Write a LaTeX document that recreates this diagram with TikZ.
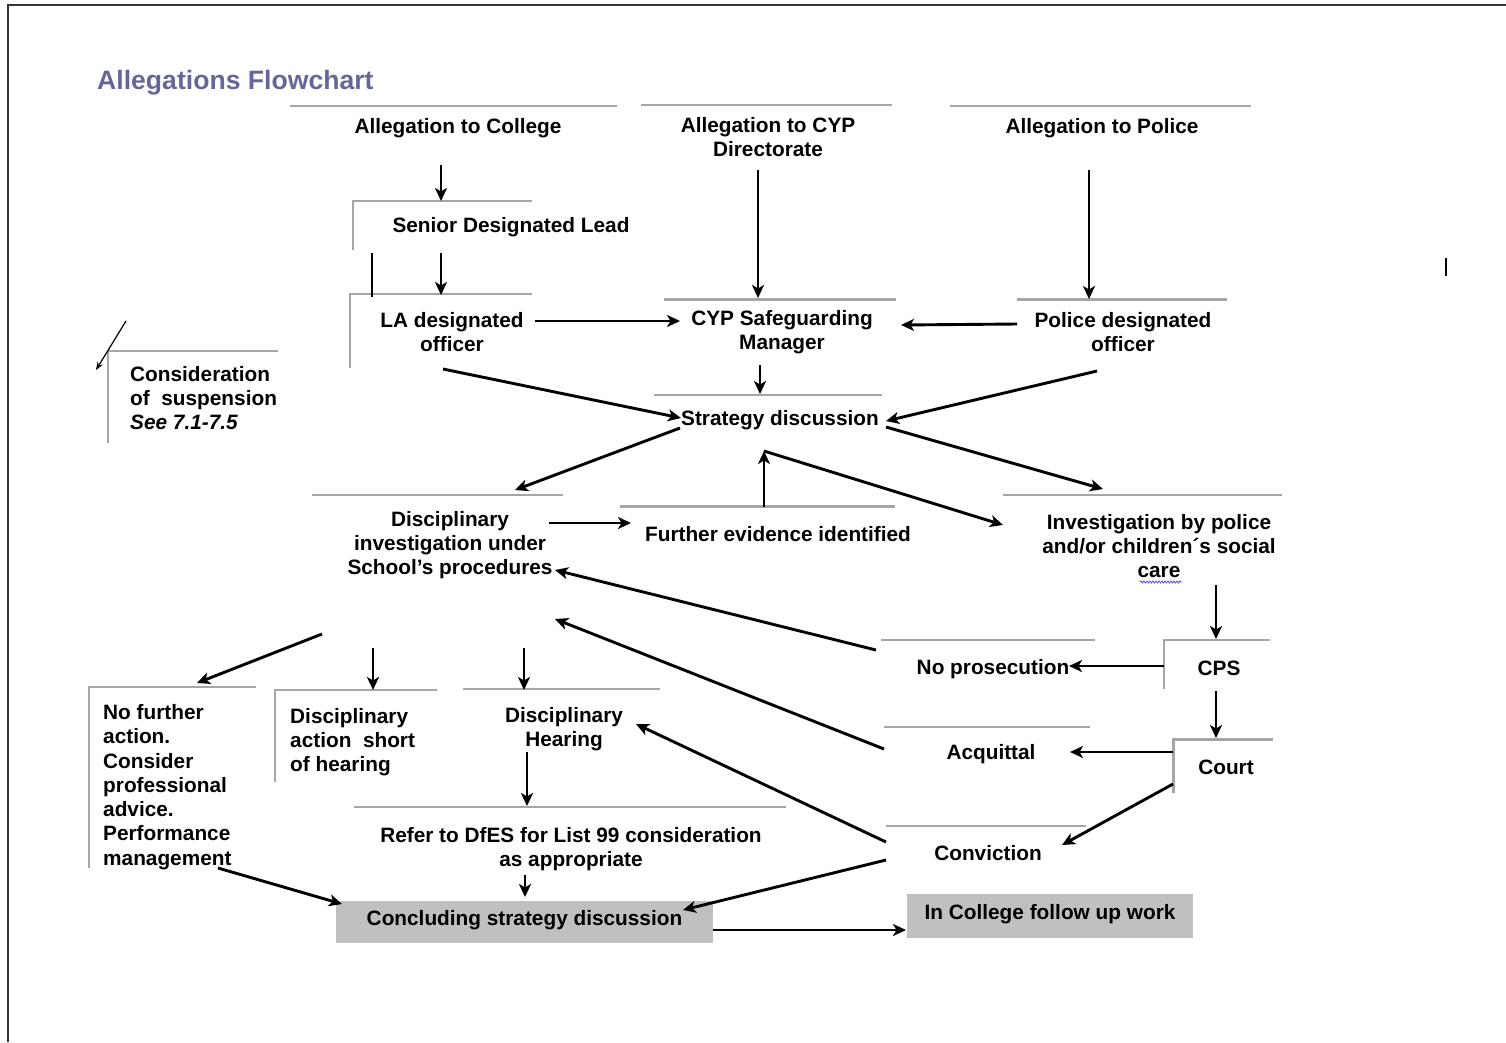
\documentclass[tikz,border=0pt]{standalone}
\usepackage{fontspec}
\setmainfont{Liberation Sans}
\usetikzlibrary{arrows.meta,decorations.pathmorphing}
\definecolor{framec}{RGB}{166,166,166}
\definecolor{titlec}{RGB}{102,102,153}
\definecolor{fillg}{RGB}{192,192,192}
\begin{document}
\begin{tikzpicture}[x=1pt,y=-1pt,
  txt/.style={font=\bfseries\fontsize{20.8}{24.3}\selectfont, align=center, inner sep=0pt},
  ltxt/.style={txt, align=left, anchor=west},
  gl/.style={draw=framec, line width=2pt},
  glt/.style={draw=framec, line width=3pt},
  arr/.style={line width=2.9pt, -{Stealth[length=13pt,width=12pt,inset=3.5pt]}},
  plain/.style={line width=2.9pt},
  greybox/.style={txt, fill=fillg}]
\useasboundingbox (0,0) rectangle (1506,1042);
% page border
\draw[line width=1.5pt, black!80] (8,1042) -- (8,5) -- (1506,5);
\coordinate (cur1) at (1446,258); \coordinate (cur2) at (1446,276);
\draw[line width=1.2pt] (cur1) -- (cur2);

% title
\node[font=\bfseries\fontsize{26.6}{30}\selectfont, text=titlec, anchor=west, inner sep=0pt] (title) at (97,83) {Allegations Flowchart};

% frames
\draw[gl] (290,106) -- (617,106);
\draw[gl] (641,105) -- (892,105);
\draw[gl] (950,106) -- (1251,106);
\draw[gl] (353,250) -- (353,201) -- (532,201);
\draw[gl] (350,368) -- (350,294) -- (532,294);
\draw[glt] (664,299) -- (896,299);
\draw[glt] (1017,299) -- (1227,299);
\draw[gl] (654,395) -- (882,395);
\draw[gl] (108,443) -- (108,351) -- (278,351);
\draw[gl] (312,495) -- (563,495);
\draw[glt] (620,506) -- (895,506);
\draw[gl] (1003,495) -- (1282,495);
\draw[gl] (1164,689) -- (1164,640) -- (1270,640);
\draw[gl] (881,640) -- (1095,640);
\draw[glt] (1173,793) -- (1173,739) -- (1273,739);
\draw[gl] (884,727) -- (1090,727);
\draw[gl] (886,826) -- (1086,826);
\draw[gl] (89,868) -- (89,687) -- (256,687);
\draw[gl] (275,782) -- (275,690) -- (437,690);
\draw[gl] (463,689) -- (660,689);
\draw[gl] (354,807) -- (786,807);

% text nodes
\node[txt] (ac) at (458,128) {Allegation to College};
\node[txt] (acyp) at (768,137) {Allegation to CYP\\Directorate};
\node[txt] (ap) at (1102,128) {Allegation to Police};
\node[txt] (sdl) at (511,227) {Senior Designated Lead};
\node[txt] (la) at (452,332) {LA designated\\officer};
\node[txt] (cyp) at (782,332) {CYP Safeguarding\\Manager};
\node[txt] (pdo) at (1123,332) {Police designated\\officer};
\node[txt] (sd) at (780,420) {Strategy discussion};
\node[ltxt] (cos) at (130,398) {Consideration\\of~~suspension\\\textit{See 7.1-7.5}};
\node[txt] (di) at (450,545) {Disciplinary\\investigation under\\School’s procedures};
\node[txt] (fe) at (778,534) {Further evidence identified};
\node[txt] (inv) at (1159,546) {Investigation by police\\and/or children´s social\\care};
\draw[blue!70, line width=0.8pt, decorate, decoration={snake, amplitude=1pt, segment length=3pt}] (1140,582) -- (1182,582);
\node[txt] (cps) at (1219,668) {CPS};
\node[txt] (np) at (993,669) {No prosecution};
\node[txt] (court) at (1226,767) {Court};
\node[txt] (acq) at (991,754) {Acquittal};
\node[txt] (conv) at (988,853) {Conviction};
\node[ltxt] (nfa) at (103,787) {No further\\action.\\Consider\\professional\\advice.\\Performance\\management};
\node[ltxt] (dash) at (290,742) {Disciplinary\\action~~short\\of hearing};
\node[txt] (dh) at (564,729) {Disciplinary\\Hearing};
\node[txt] (ref) at (571,849) {Refer to DfES for List 99 consideration\\as appropriate};
\node[greybox, minimum width=377pt, minimum height=42pt] (csd) at (524.5,922) {\raisebox{8pt}{Concluding strategy discussion}};
\node[greybox, minimum width=286pt, minimum height=44pt] (icf) at (1050,916) {\raisebox{8pt}{In College follow up work}};

% connector end points
\coordinate (ac-o) at (441,165);   \coordinate (sdl-i) at (441,201);
\coordinate (acyp-o) at (758,170); \coordinate (cyp-i) at (758,298);
\coordinate (ap-o) at (1089,170);  \coordinate (pdo-i) at (1089,299);
\coordinate (sdl-o1) at (372,253); \coordinate (la-i1) at (372,297);
\coordinate (sdl-o) at (441,253);  \coordinate (la-i) at (441,295);
\coordinate (la-e) at (535,321);   \coordinate (cyp-w) at (680,321);
\coordinate (pdo-w) at (1017,324); \coordinate (cyp-e) at (901,325);
\coordinate (cyp-s) at (760,365);  \coordinate (sd-n) at (760,394);
\coordinate (la-s) at (443,369);   \coordinate (sd-w) at (681,418);
\coordinate (pdo-s) at (1097,371); \coordinate (sd-e) at (886,421);
\coordinate (sd-sw) at (680,428);  \coordinate (di-n) at (515,490);
\coordinate (sd-se) at (886,427);  \coordinate (inv-n) at (1103,489);
\coordinate (fe-n) at (764,507);   \coordinate (sd-s) at (764,451);
\coordinate (inv-w) at (1003,525);
\coordinate (di-e) at (549,523);   \coordinate (fe-w) at (631,523);
\coordinate (inv-s) at (1216,585); \coordinate (cps-n) at (1216,639);
\coordinate (cps-w) at (1164,666); \coordinate (np-e) at (1069,666);
\coordinate (np-w) at (876,650);   \coordinate (di-se) at (555,570);
\coordinate (cps-s) at (1216,691); \coordinate (court-n) at (1216,738);
\coordinate (court-w) at (1173,752); \coordinate (acq-e) at (1070,752);
\coordinate (acq-w) at (884,749);  \coordinate (di-s) at (555,619);
\coordinate (court-sw) at (1173,784); \coordinate (conv-e) at (1062,845);
\coordinate (conv-w1) at (886,842); \coordinate (dh-e) at (636,724);
\coordinate (conv-w2) at (886,860); \coordinate (csd-e) at (683,910);
\coordinate (di-s1) at (322,634);  \coordinate (nfa-n) at (197,683);
\coordinate (di-s2) at (373,648);  \coordinate (dash-n) at (373,690);
\coordinate (di-s3) at (524,648);  \coordinate (dh-n) at (524,690);
\coordinate (dh-s) at (527,752);   \coordinate (ref-n) at (527,806);
\coordinate (ref-s) at (525,875);  \coordinate (csd-n) at (525,897);
\coordinate (nfa-s) at (218,868);  \coordinate (csd-w) at (342,904);
\coordinate (csd-e2) at (713,930); \coordinate (icf-w) at (906,930);
\coordinate (cos-a) at (126,321);  \coordinate (cos-b) at (96,370);

% connectors
\draw[arr] (ac-o) -- (sdl-i);
\draw[arr] (acyp-o) -- (cyp-i);
\draw[arr] (ap-o) -- (pdo-i);
\draw[plain] (sdl-o1) -- (la-i1);
\draw[arr] (sdl-o) -- (la-i);
\draw[arr] (la-e) -- (cyp-w);
\draw[arr] (pdo-w) -- (cyp-e);
\draw[arr] (cyp-s) -- (sd-n);
\draw[arr] (la-s) -- (sd-w);
\draw[arr] (pdo-s) -- (sd-e);
\draw[arr] (sd-sw) -- (di-n);
\draw[arr] (sd-se) -- (inv-n);
\draw[arr] (fe-n) -- (sd-s);
\draw[arr] (sd-s) -- (inv-w);
\draw[arr] (di-e) -- (fe-w);
\draw[arr] (inv-s) -- (cps-n);
\draw[arr] (cps-w) -- (np-e);
\draw[arr] (np-w) -- (di-se);
\draw[arr] (cps-s) -- (court-n);
\draw[arr] (court-w) -- (acq-e);
\draw[arr] (acq-w) -- (di-s);
\draw[arr] (court-sw) -- (conv-e);
\draw[arr] (conv-w1) -- (dh-e);
\draw[arr] (conv-w2) -- (csd-e);
\draw[arr] (di-s1) -- (nfa-n);
\draw[arr] (di-s2) -- (dash-n);
\draw[arr] (di-s3) -- (dh-n);
\draw[arr] (dh-s) -- (ref-n);
\draw[arr] (ref-s) -- (csd-n);
\draw[arr] (nfa-s) -- (csd-w);
\draw[arr] (csd-e2) -- (icf-w);
\draw[line width=1.2pt, -{Stealth[length=8pt,width=6pt]}] (cos-a) -- (cos-b);
\end{tikzpicture}
\end{document}
